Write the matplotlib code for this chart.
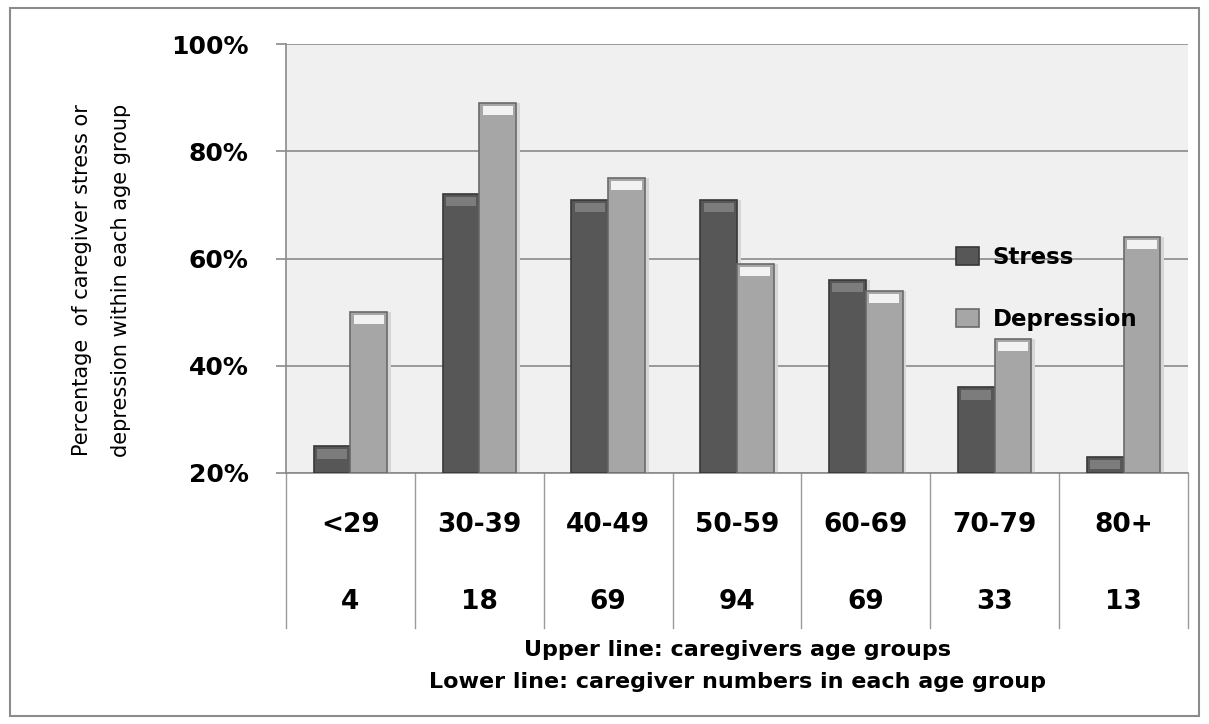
import numpy as np
import matplotlib
matplotlib.use("Agg")
import matplotlib.pyplot as plt
from matplotlib.patches import Rectangle

# data
age_groups = ["<29", "30-39", "40-49", "50-59", "60-69", "70-79", "80+"]
group_sizes = [4, 18, 69, 94, 69, 33, 13]
stress = [25, 72, 71, 71, 56, 36, 23]
depression = [50, 89, 75, 59, 54, 45, 64]
y_ticks = [20, 40, 60, 80, 100]

fig = plt.figure(figsize=(12.09, 7.24), dpi=100)
fig.patches.append(Rectangle((0.008, 0.011), 0.984, 0.978, transform=fig.transFigure,
                             fill=False, edgecolor="#8c8c8c", linewidth=1.5))

ax = fig.add_axes([0.2366, 0.3467, 0.746, 0.5925])
ax.set_facecolor("#f0f0f0")

x = np.arange(len(age_groups))
w = 0.285

def draw_bars(xs, vals, face, edge, top, label):
    vals = np.array(vals)
    # soft shadow to the right
    ax.bar(xs + 0.03, vals - 20, w, bottom=20, color="#d6d6d6", linewidth=0, zorder=2)
    ax.bar(xs, vals - 20, w, bottom=20, color=face, edgecolor=edge,
           linewidth=1.2, label=label, zorder=3)
    # bevel highlight at the top of each bar
    ax.bar(xs, [1.7] * len(vals), w * 0.82, bottom=vals - 2.3,
           color=top, linewidth=0, zorder=4)

draw_bars(x - w / 2, stress, "#575757", "#383838", "#7c7c7c", "Stress")
draw_bars(x + w / 2, depression, "#a6a6a6", "#6a6a6a", "#f2f2f2", "Depression")

ax.set_xlim(-0.5, len(age_groups) - 0.5)
ax.set_ylim(20, 100)
ax.set_yticks(y_ticks)
ax.set_yticklabels([f"{v}%" for v in y_ticks], fontsize=18, fontweight="bold")
ax.tick_params(axis="y", length=7, color="#8a8a8a", width=1.2, pad=20)
ax.set_xticks([])
ax.yaxis.grid(True, color="#8a8a8a", linewidth=1.2, zorder=0)
ax.set_axisbelow(True)
for s in ["top", "right"]:
    ax.spines[s].set_visible(False)
ax.spines["left"].set_color("#8a8a8a")
ax.spines["bottom"].set_color("#8a8a8a")
ax.spines["left"].set_linewidth(1.2)
ax.spines["bottom"].set_linewidth(1.2)

# table below the axis
trans = ax.get_xaxis_transform()
for b in np.arange(-0.5, len(age_groups), 1.0):
    ax.plot([b, b], [0, -0.361], transform=trans, color="#9a9a9a",
            linewidth=1, clip_on=False)
for i, (g, n) in enumerate(zip(age_groups, group_sizes)):
    ax.text(i, -0.121, g, transform=trans, ha="center", va="center",
            fontsize=19, fontweight="bold")
    ax.text(i, -0.30, str(n), transform=trans, ha="center", va="center",
            fontsize=19, fontweight="bold")

fig.text(0.61, 0.102, "Upper line: caregivers age groups", ha="center",
         va="center", fontsize=16, fontweight="bold")
fig.text(0.61, 0.058, "Lower line: caregiver numbers in each age group",
         ha="center", va="center", fontsize=16, fontweight="bold")

fig.text(0.068, 0.613, "Percentage  of caregiver stress or", rotation=90,
         ha="center", va="center", fontsize=15)
fig.text(0.100, 0.613, "depression within each age group", rotation=90,
         ha="center", va="center", fontsize=15)

handles, labels = ax.get_legend_handles_labels()
ax.legend(handles, labels,
          loc="center left", bbox_to_anchor=(0.72, 0.43), frameon=False,
          prop={"size": 16.5, "weight": "bold"}, labelspacing=1.7,
          handlelength=1.0, handleheight=0.8, handletextpad=0.6)

fig.savefig("out.png", dpi=100)
